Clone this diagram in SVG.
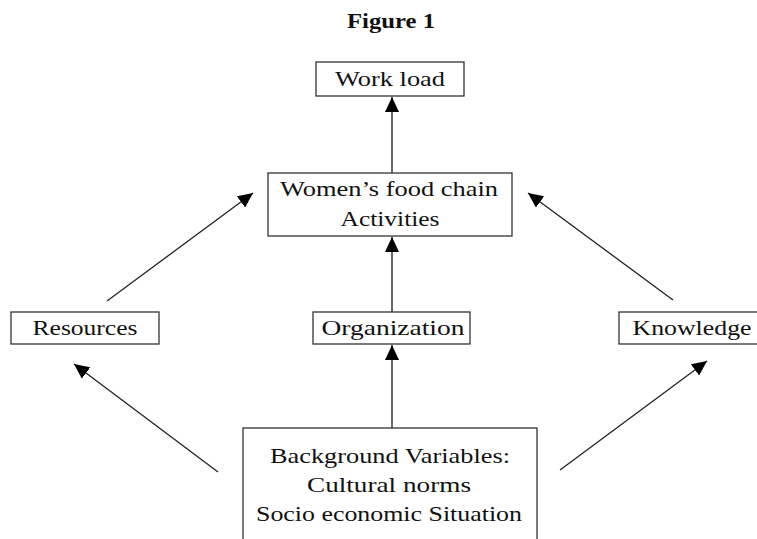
<svg xmlns="http://www.w3.org/2000/svg" width="757" height="539" viewBox="0 0 757 539">
<style>
.box{fill:#fff;stroke:#333;stroke-width:1.3}
.t{font-family:"Liberation Serif","DejaVu Serif",serif;font-size:22px;fill:#111;text-anchor:middle}
.title{font-family:"Liberation Serif","DejaVu Serif",serif;font-size:20px;font-weight:bold;fill:#111;text-anchor:middle}
.c{stroke:#222;fill:none;marker-end:url(#ah)}
.v{stroke-width:1.6;stroke:#444}
.d{stroke-width:1.3}
</style>
<defs>
<marker id="ah" markerUnits="userSpaceOnUse" markerWidth="16" markerHeight="14" refX="15" refY="7" orient="auto">
<path d="M0,0 L15,7 L0,14 Z" fill="#000"/>
</marker>
</defs>
<rect width="757" height="539" fill="#fff"/>
<text class="title" x="391" y="28" textLength="88" lengthAdjust="spacingAndGlyphs">Figure 1</text>
<g id="connectors">
<line class="c v" x1="392" y1="173" x2="392" y2="97"/>
<line class="c v" x1="392" y1="312" x2="392" y2="237"/>
<line class="c v" x1="392" y1="428" x2="392" y2="345"/>
<line class="c d" x1="107" y1="301" x2="253" y2="193"/>
<line class="c d" x1="673" y1="300" x2="528" y2="193"/>
<line class="c d" x1="218" y1="472" x2="74" y2="364"/>
<line class="c d" x1="560" y1="470" x2="707" y2="361"/>
</g>
<g id="workload">
<rect class="box" x="316" y="62" width="148" height="34"/>
<text class="t" x="390" y="86" textLength="110" lengthAdjust="spacingAndGlyphs">Work load</text>
</g>
<g id="womens">
<rect class="box" x="268" y="173" width="244" height="63"/>
<text class="t" x="389" y="196" textLength="218" lengthAdjust="spacingAndGlyphs">Women’s food chain</text>
<text class="t" x="390" y="226" textLength="99" lengthAdjust="spacingAndGlyphs">Activities</text>
</g>
<g id="resources">
<rect class="box" x="11" y="312" width="148" height="32"/>
<text class="t" x="85" y="335" textLength="105" lengthAdjust="spacingAndGlyphs">Resources</text>
</g>
<g id="organization">
<rect class="box" x="313" y="312" width="157" height="32"/>
<text class="t" x="393" y="335" textLength="143" lengthAdjust="spacingAndGlyphs">Organization</text>
</g>
<g id="knowledge">
<rect class="box" x="619" y="312" width="150" height="32"/>
<text class="t" x="692" y="335" textLength="119" lengthAdjust="spacingAndGlyphs">Knowledge</text>
</g>
<g id="background">
<rect class="box" x="243" y="428" width="294" height="120"/>
<text class="t" x="390" y="463" textLength="240" lengthAdjust="spacingAndGlyphs">Background Variables:</text>
<text class="t" x="389" y="492" textLength="164" lengthAdjust="spacingAndGlyphs">Cultural norms</text>
<text class="t" x="389" y="521" textLength="266" lengthAdjust="spacingAndGlyphs">Socio economic Situation</text>
</g>
</svg>
